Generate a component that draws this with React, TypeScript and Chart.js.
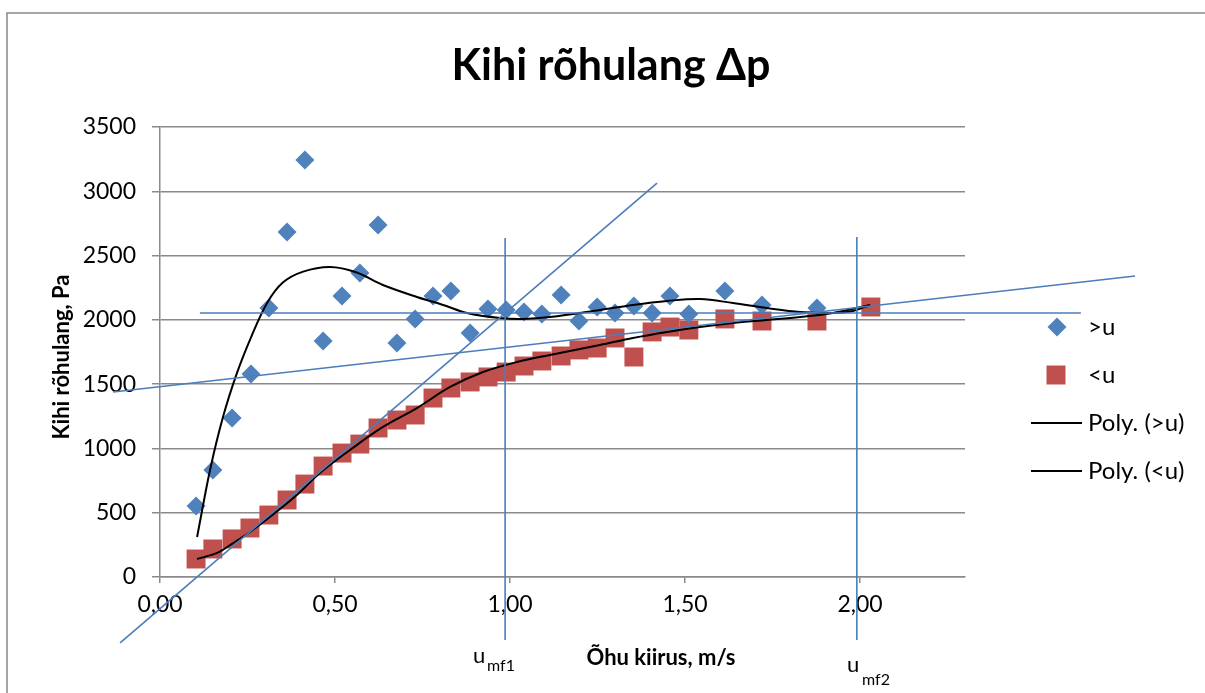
import React, { useEffect, useRef } from 'react';
import { Chart, registerables } from 'chart.js';
Chart.register(...registerables);

// >u measurements (air speed m/s, bed pressure drop Pa)
const speedUp = [0.103, 0.151, 0.206, 0.26, 0.311, 0.363, 0.414, 0.466, 0.52, 0.571, 0.623, 0.677, 0.729, 0.78, 0.831, 0.886, 0.937, 0.989, 1.04, 1.091, 1.146, 1.197, 1.249, 1.3, 1.354, 1.406, 1.457, 1.511, 1.614, 1.72, 1.877];
const dpUp = [552, 832, 1237, 1579, 2092, 2683, 3243, 1836, 2186, 2364, 2738, 1820, 2007, 2186, 2224, 1898, 2084, 2077, 2061, 2046, 2193, 1991, 2100, 2053, 2108, 2053, 2186, 2046, 2224, 2116, 2092];

// <u measurements
const speedDown = [0.103, 0.151, 0.206, 0.257, 0.311, 0.363, 0.414, 0.466, 0.52, 0.571, 0.623, 0.677, 0.729, 0.78, 0.831, 0.886, 0.937, 0.989, 1.04, 1.091, 1.146, 1.197, 1.249, 1.3, 1.354, 1.406, 1.457, 1.511, 1.614, 1.72, 1.877, 2.031];
const dpDown = [140, 218, 296, 381, 482, 599, 723, 863, 964, 1034, 1159, 1221, 1260, 1392, 1470, 1517, 1556, 1594, 1641, 1680, 1719, 1766, 1781, 1859, 1711, 1906, 1944, 1921, 2007, 1991, 1991, 2100];

// Poly. (>u) trendline
const polyUpX = [0.106, 0.143, 0.18, 0.22, 0.261, 0.306, 0.351, 0.409, 0.486, 0.56, 0.637, 0.734, 0.809, 0.877, 0.971, 1.037, 1.114, 1.257, 1.351, 1.449, 1.543, 1.637, 1.734, 1.829, 1.923, 1.98, 2.029];
const polyUpY = [311, 832, 1244, 1587, 1870, 2131, 2290, 2375, 2411, 2370, 2271, 2178, 2116, 2053, 2014, 2007, 2022, 2077, 2116, 2147, 2162, 2131, 2092, 2061, 2053, 2069, 2116];

// Poly. (<u) trendline
const polyDownX = [0.106, 0.163, 0.209, 0.257, 0.314, 0.391, 0.457, 0.543, 0.637, 0.734, 0.829, 0.923, 1.02, 1.114, 1.257, 1.351, 1.449, 1.543, 1.637, 1.734, 1.829, 1.923, 2.029];
const polyDownY = [140, 187, 264, 350, 467, 638, 809, 988, 1167, 1314, 1478, 1594, 1672, 1727, 1804, 1859, 1906, 1944, 1976, 1999, 2022, 2053, 2116];

// Hand-drawn construction lines (endpoints in data units)
const hLineX = [0.114, 2.631];
const hLineY = [2053, 2053];
const slopeLineX = [-0.134, 2.786];
const slopeLineY = [1439, 2341];
const steepLineX = [-0.114, 1.42];
const steepLineY = [-513, 3064];
const umf1X = [0.986, 0.986];
const umf1Y = [2637, -490];
const umf2X = [1.991, 1.991];
const umf2Y = [2644, -490];

const xTicks = [0, 0.5, 1, 1.5, 2];
const yTicks = [0, 500, 1000, 1500, 2000, 2500, 3000, 3500];

const BLUE = '#4F81BD';
const RED = '#C0504D';
const LINE_BLUE = '#4A7EBB';
const GRID = '#8a8a8a';
const FONT = 'Lato';

const pts = (xs: number[], ys: number[]) => xs.map((x, i) => ({ x, y: ys[i] }));

const overlay = {
  id: 'overlay',
  beforeDraw(chart: any) {
    const ctx = chart.ctx;
    ctx.save();
    ctx.fillStyle = '#ffffff';
    ctx.fillRect(0, 0, chart.width, chart.height);
    ctx.strokeStyle = '#888888';
    ctx.lineWidth = 1.5;
    ctx.strokeRect(7, 13, 1210, 700);
    ctx.restore();
  },
  afterDraw(chart: any) {
    const ctx = chart.ctx;
    ctx.save();
    ctx.fillStyle = '#000';
    // title
    ctx.font = `bold 43px ${FONT}`;
    ctx.textAlign = 'center';
    ctx.textBaseline = 'alphabetic';
    ctx.fillText('Kihi rõhulang Δp', 611, 80);
    // x title
    ctx.font = `bold 22px ${FONT}`;
    ctx.fillText('Õhu kiirus, m/s', 661, 665);
    // y title
    ctx.save();
    ctx.translate(62, 357);
    ctx.rotate(-Math.PI / 2);
    ctx.textBaseline = 'middle';
    ctx.fillText('Kihi rõhulang, Pa', 0, 0);
    ctx.restore();
    // u_mf labels
    ctx.textAlign = 'left';
    ctx.font = `22px ${FONT}`;
    ctx.fillText('u', 473, 663);
    ctx.fillText('u', 847, 672);
    ctx.font = `16px ${FONT}`;
    ctx.fillText('mf1', 487, 671);
    ctx.fillText('mf2', 862, 685);
    // legend
    ctx.fillStyle = BLUE;
    ctx.beginPath();
    ctx.moveTo(1057, 317.5);
    ctx.lineTo(1066.5, 327);
    ctx.lineTo(1057, 336.5);
    ctx.lineTo(1047.5, 327);
    ctx.closePath();
    ctx.fill();
    ctx.fillStyle = RED;
    ctx.fillRect(1046.5, 365.5, 19, 19);
    ctx.strokeStyle = '#000';
    ctx.lineWidth = 2;
    ctx.beginPath();
    ctx.moveTo(1031, 423);
    ctx.lineTo(1082, 423);
    ctx.moveTo(1031, 471);
    ctx.lineTo(1082, 471);
    ctx.stroke();
    ctx.fillStyle = '#000';
    ctx.font = `24px ${FONT}`;
    ctx.textBaseline = 'middle';
    ctx.fillText('>u', 1088, 327);
    ctx.fillText('<u', 1088, 375);
    ctx.fillText('Poly. (>u)', 1088, 423);
    ctx.fillText('Poly. (<u)', 1088, 471);
    ctx.restore();
  },
};

export default function App() {
  const ref = useRef<HTMLCanvasElement | null>(null);
  useEffect(() => {
    if (!ref.current) return;
    const lineDs = (xs: number[], ys: number[]) => ({
      data: pts(xs, ys),
      showLine: true,
      borderColor: LINE_BLUE,
      borderWidth: 1.6,
      pointRadius: 0,
      fill: false,
      clip: false as any,
      order: 1,
    });
    const chart = new Chart(ref.current, {
      type: 'scatter',
      data: {
        datasets: [
          lineDs(hLineX, hLineY),
          lineDs(slopeLineX, slopeLineY),
          lineDs(steepLineX, steepLineY),
          lineDs(umf1X, umf1Y),
          lineDs(umf2X, umf2Y),
          {
            label: 'Poly. (>u)',
            data: pts(polyUpX, polyUpY),
            showLine: true,
            borderColor: '#000',
            borderWidth: 2,
            pointRadius: 0,
            tension: 0.35,
            order: 2,
          },
          {
            label: 'Poly. (<u)',
            data: pts(polyDownX, polyDownY),
            showLine: true,
            borderColor: '#000',
            borderWidth: 2,
            pointRadius: 0,
            tension: 0.35,
            order: 2,
          },
          {
            label: '>u',
            data: pts(speedUp, dpUp),
            pointStyle: 'rectRot',
            pointRadius: 9.5,
            backgroundColor: BLUE,
            borderColor: BLUE,
            borderWidth: 0,
            order: 3,
          },
          {
            label: '<u',
            data: pts(speedDown, dpDown),
            pointStyle: 'rect',
            pointRadius: 13.4,
            backgroundColor: RED,
            borderColor: RED,
            borderWidth: 0,
            order: 4,
          },
        ] as any,
      },
      plugins: [overlay],
      options: {
        animation: false,
        responsive: false,
        layout: { padding: { left: 0, top: 127, right: 240, bottom: 0 } },
        plugins: { legend: { display: false }, title: { display: false }, tooltip: { enabled: false } },
        scales: {
          x: {
            type: 'linear',
            min: 0,
            max: 2.3,
            afterFit: (s: any) => { s.height = 116; },
            afterBuildTicks: (s: any) => { s.ticks = xTicks.map((v) => ({ value: v })); },
            ticks: {
              includeBounds: false,
              padding: 8,
              color: '#000',
              font: { family: FONT, size: 23 },
              callback: (v: any) => Number(v).toFixed(2).replace('.', ','),
            },
            grid: { drawOnChartArea: false, drawTicks: true, tickLength: 6, color: GRID, lineWidth: 1.5 },
            border: { display: true, color: GRID, width: 1.5 },
          },
          y: {
            type: 'linear',
            min: 0,
            max: 3500,
            afterFit: (s: any) => { s.width = 160; },
            afterBuildTicks: (s: any) => { s.ticks = yTicks.map((v) => ({ value: v })); },
            ticks: {
              padding: 16,
              color: '#000',
              font: { family: FONT, size: 23 },
              callback: (v: any) => String(v),
            },
            grid: { color: GRID, lineWidth: 1.5, tickLength: 8 },
            border: { display: true, color: GRID, width: 1.5 },
          },
        },
      } as any,
    });
    return () => chart.destroy();
  }, []);
  return (
    <div style={{ position: 'absolute', left: 0, top: 0, width: 1205, height: 693 }}>
      <canvas ref={ref} width={1205} height={693} />
    </div>
  );
}
